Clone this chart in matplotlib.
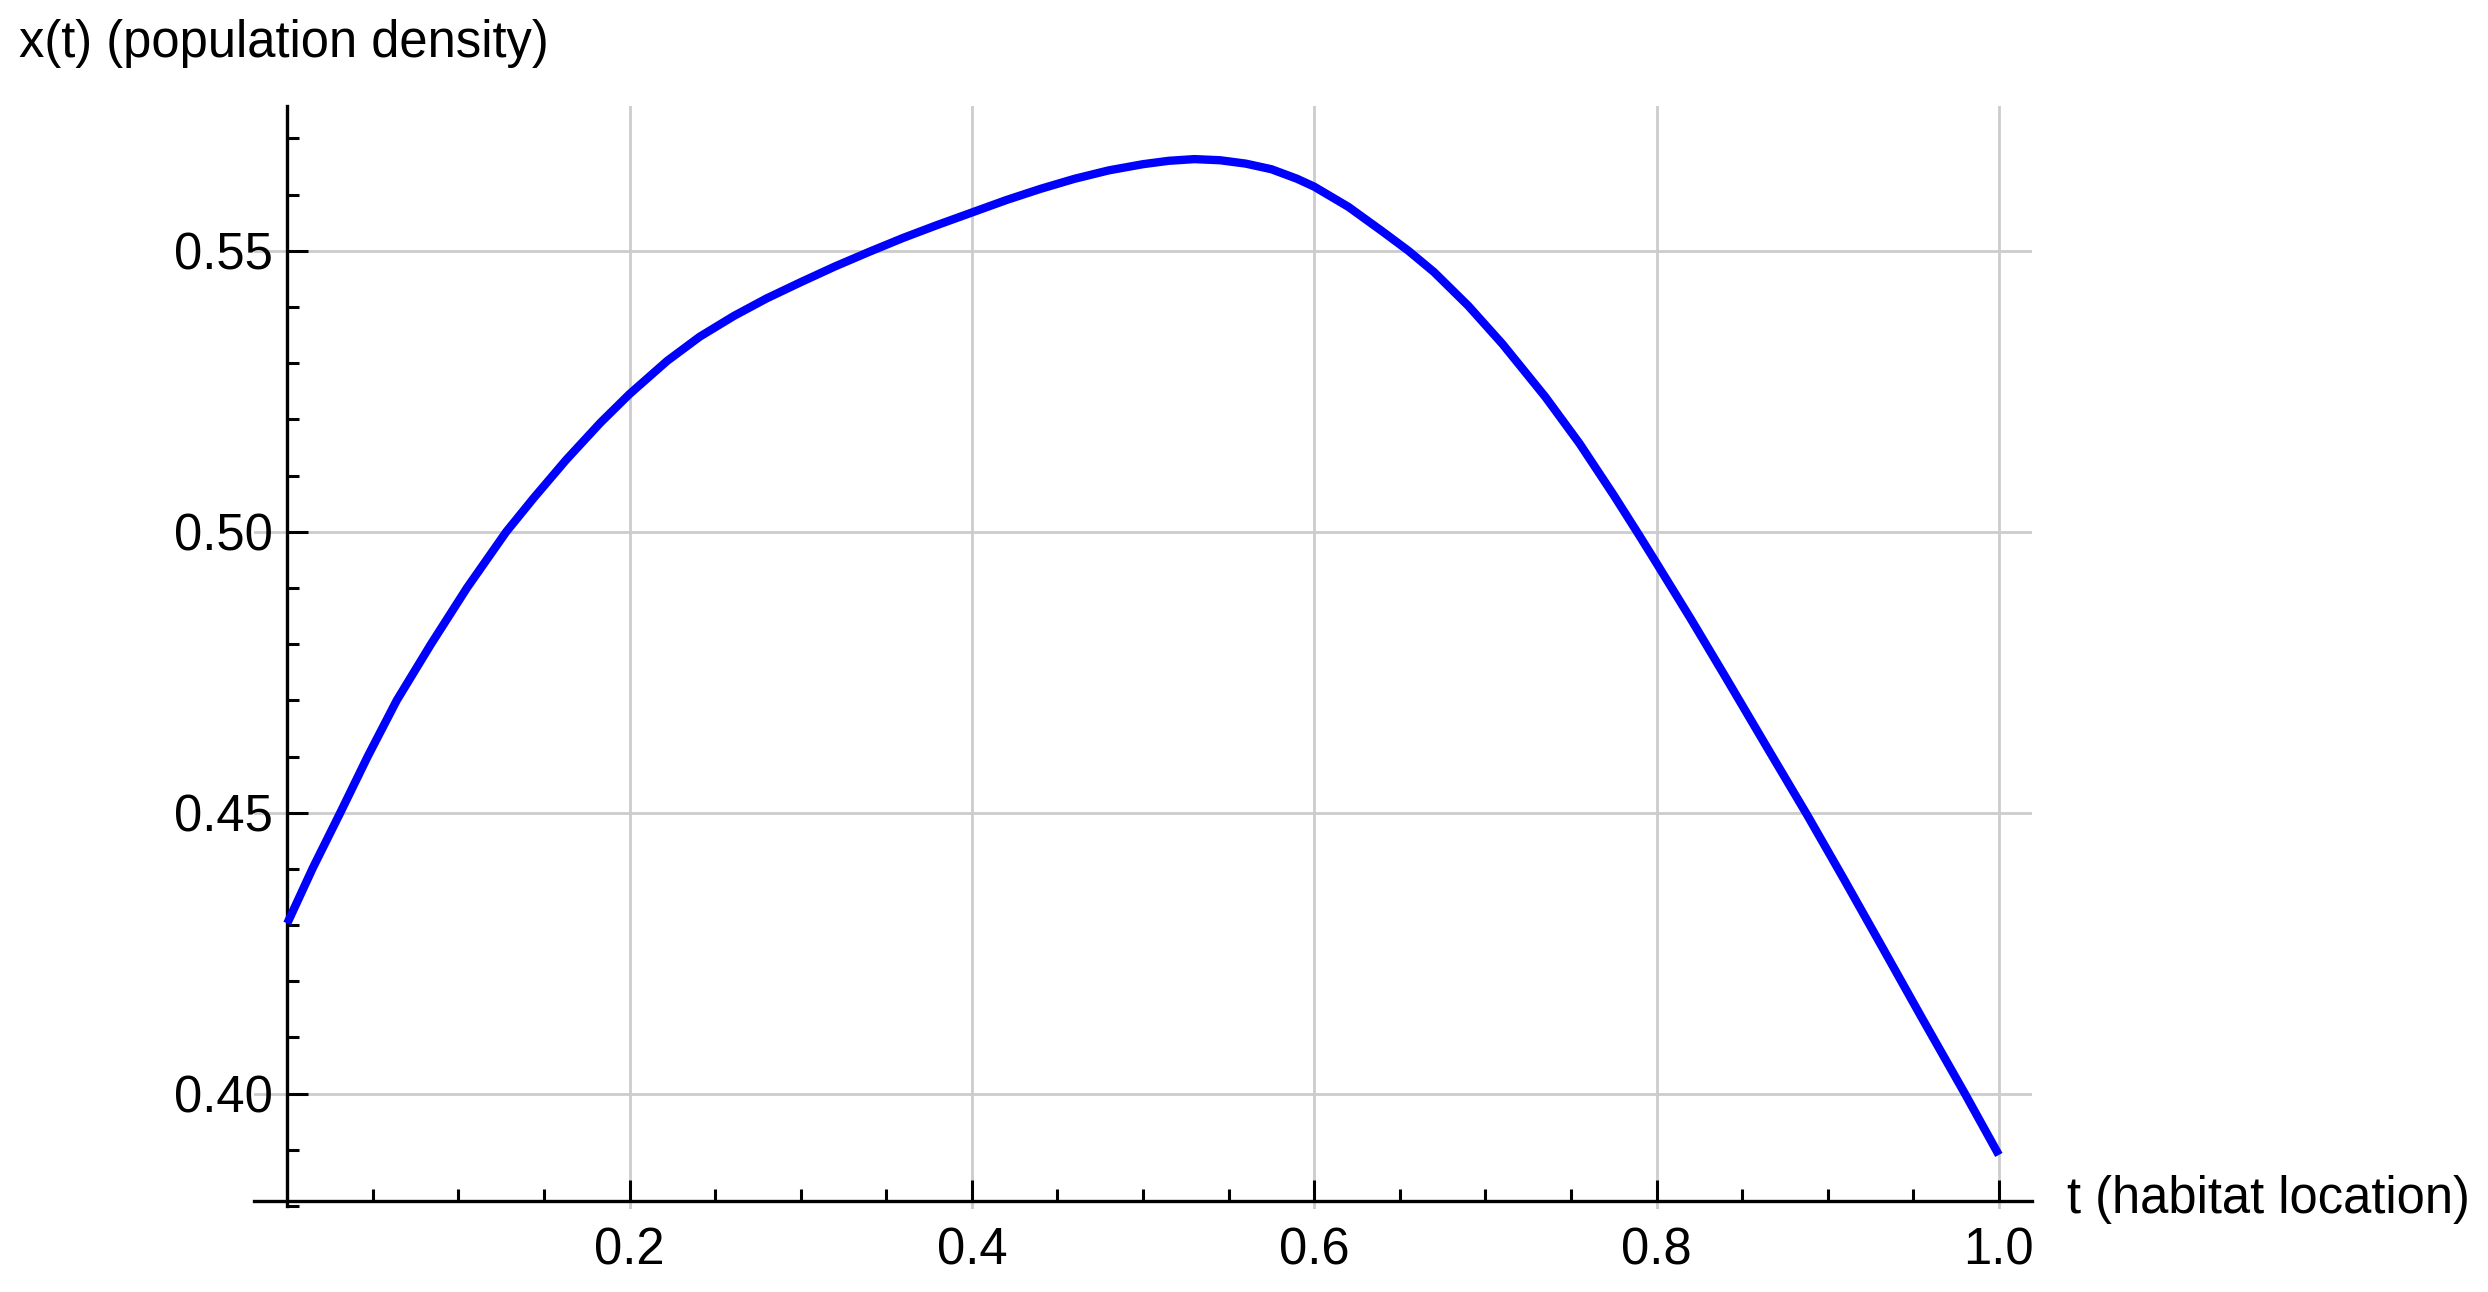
import numpy as np
import matplotlib
matplotlib.use("Agg")
import matplotlib.pyplot as plt
from matplotlib.ticker import FixedLocator

# values
t_vals = [0.000, 0.015, 0.031, 0.047, 0.064, 0.084, 0.105, 0.128, 0.144, 0.163,
          0.183, 0.200, 0.222, 0.241, 0.261, 0.280, 0.300, 0.320, 0.340, 0.360,
          0.380, 0.400, 0.420, 0.440, 0.460, 0.480, 0.500, 0.515, 0.530, 0.545,
          0.560, 0.575, 0.590, 0.600, 0.620, 0.640, 0.655, 0.670, 0.690, 0.710,
          0.735, 0.755, 0.775, 0.790, 0.800, 0.820, 0.840, 0.865, 0.888, 0.910,
          0.932, 0.955, 0.980, 1.000]
x_vals = [0.4303, 0.4402, 0.4500, 0.4600, 0.4700, 0.4800, 0.4900, 0.5000, 0.5060, 0.5128,
          0.5194, 0.5245, 0.5304, 0.5347, 0.5384, 0.5415, 0.5444, 0.5472, 0.5498, 0.5523,
          0.5546, 0.5568, 0.5590, 0.5610, 0.5628, 0.5643, 0.5654, 0.5660, 0.5663, 0.5661,
          0.5655, 0.5645, 0.5628, 0.5614, 0.5578, 0.5534, 0.5500, 0.5462, 0.5402, 0.5334,
          0.5240, 0.5157, 0.5065, 0.4993, 0.4944, 0.4845, 0.4743, 0.4614, 0.4496, 0.4379,
          0.4260, 0.4135, 0.4001, 0.3891]

x_ticks = [0.2, 0.4, 0.6, 0.8, 1.0]
x_ticklabels = ["0.2", "0.4", "0.6", "0.8", "1.0"]
y_ticks = [0.40, 0.45, 0.50, 0.55]
y_ticklabels = ["0.40", "0.45", "0.50", "0.55"]

plt.rcParams['font.family'] = ['Liberation Sans', 'DejaVu Sans']
FS = 18.25

fig = plt.figure(figsize=(12.44, 6.46), dpi=200)
ax = fig.add_axes([0.10217, 0.06432, 0.71471, 0.85341])

ax.plot(t_vals, x_vals, color=(0, 0, 1), lw=3.0, solid_joinstyle='round',
        solid_capstyle='butt', zorder=3)

ax.set_xlim(-0.0193, 1.0196)
ax.set_ylim(0.3795, 0.5757)

ax.spines['top'].set_visible(False)
ax.spines['right'].set_visible(False)
ax.spines['left'].set_position(('data', 0))
ax.spines['left'].set_bounds(0.3800, 0.5757)
ax.spines['bottom'].set_position(('data', 0.3809))
for s in ('left', 'bottom'):
    ax.spines[s].set_linewidth(1.2)

ax.xaxis.set_major_locator(FixedLocator(x_ticks))
ax.set_xticklabels(x_ticklabels)
ax.xaxis.set_minor_locator(FixedLocator([0.05, 0.1, 0.15, 0.25, 0.3, 0.35, 0.45, 0.5,
                                         0.55, 0.65, 0.7, 0.75, 0.85, 0.9, 0.95]))
ax.yaxis.set_major_locator(FixedLocator(y_ticks))
ax.set_yticklabels(y_ticklabels)
ax.yaxis.set_minor_locator(FixedLocator([v / 100 for v in range(38, 58) if v % 5 != 0]))

ax.tick_params(which='both', direction='in', width=1.1, labelsize=FS, colors='black')
ax.tick_params(which='major', length=7.5)
ax.tick_params(which='minor', length=4.2)
ax.tick_params(axis='x', which='major', pad=9)
ax.tick_params(axis='y', which='major', pad=5)

ax.grid(True, which='major', color='#cccccc', lw=1.0, zorder=0)

fig.text(19 / 2488, 1 - 44 / 1292, "x(t) (population density)", fontsize=FS,
         ha='left', va='center')
fig.text(2067 / 2488, 1 - 1199 / 1292, "t (habitat location)", fontsize=FS,
         ha='left', va='center')

fig.savefig("out.png", dpi=200, facecolor='white')
